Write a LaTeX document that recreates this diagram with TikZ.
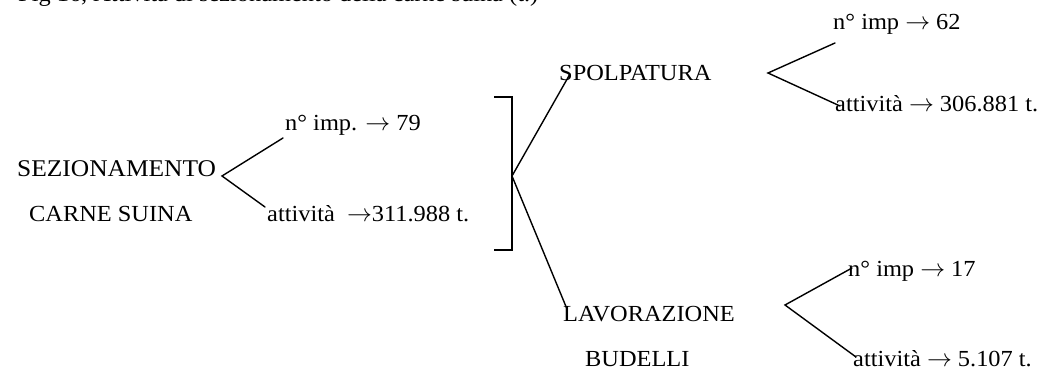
\documentclass[tikz,border=0pt]{standalone}
\usepackage{fontspec}
\setmainfont{Liberation Serif}[FakeStretch=1.06]
\newcommand{\rarr}{\ensuremath{\rightarrow}}
\begin{document}
\begin{tikzpicture}[x=1pt,y=-1pt,
  txt/.style={anchor=base west, inner sep=0pt, font=\fontsize{23}{27}\selectfont},
  ln/.style={line width=1.4pt, line cap=round}]
\useasboundingbox (0,0) rectangle (1043,371);
% caption (cut at top)
\node[txt] (cap) at (18,1.5) {Fig 16, Attività di sezionamento della carne suina (t.)};
% first level
\node[txt, font=\fontsize{24}{28}\selectfont] (sez) at (17,177) {SEZIONAMENTO};
\node[txt] (carne) at (29,222) {CARNE SUINA};
\node[txt] (imp1) at (285,131) {n° imp. \rarr\ 79};
\node[txt] (att1) at (267,222) {attività \ \rarr311.988 t.};
\coordinate (b1) at (222,176);
\coordinate (b1u) at (283,138);
\coordinate (b1d) at (265,207);
\draw[ln] (b1u) -- (b1) -- (b1d);
% bracket
\coordinate (brtl) at (494,97);
\coordinate (brtr) at (512,97);
\coordinate (brbr) at (512,250);
\coordinate (brbl) at (494,250);
\draw[line width=1.2pt] (brtl) -- (brtr) -- (brbr) -- (brbl);
\coordinate (bm) at (512,176);
% second level
\node[txt] (spol) at (559,81) {SPOLPATURA};
\node[txt] (lav) at (563,321) {LAVORAZIONE};
\node[txt] (bud) at (585,366) {BUDELLI};
\coordinate (spolS) at (570,74);
\coordinate (lavL) at (567,309);
\draw[ln] (spolS) -- (bm) -- (lavL);
% SPOLPATURA branches
\node[txt] (imp2) at (833,30) {n° imp \rarr\ 62};
\node[txt] (att2) at (835,112) {attività \rarr\ 306.881 t.};
\coordinate (b2) at (768,73);
\coordinate (b2u) at (835,43);
\coordinate (b2d) at (840,106);
\draw[ln] (b2u) -- (b2) -- (b2d);
% LAVORAZIONE branches
\node[txt] (imp3) at (848,276) {n° imp \rarr\ 17};
\node[txt] (att3) at (853,366) {attività \rarr\ 5.107 t.};
\coordinate (b3) at (785,305);
\coordinate (b3u) at (852,268);
\coordinate (b3d) at (856,357);
\draw[ln] (b3u) -- (b3) -- (b3d);
\end{tikzpicture}
\end{document}
